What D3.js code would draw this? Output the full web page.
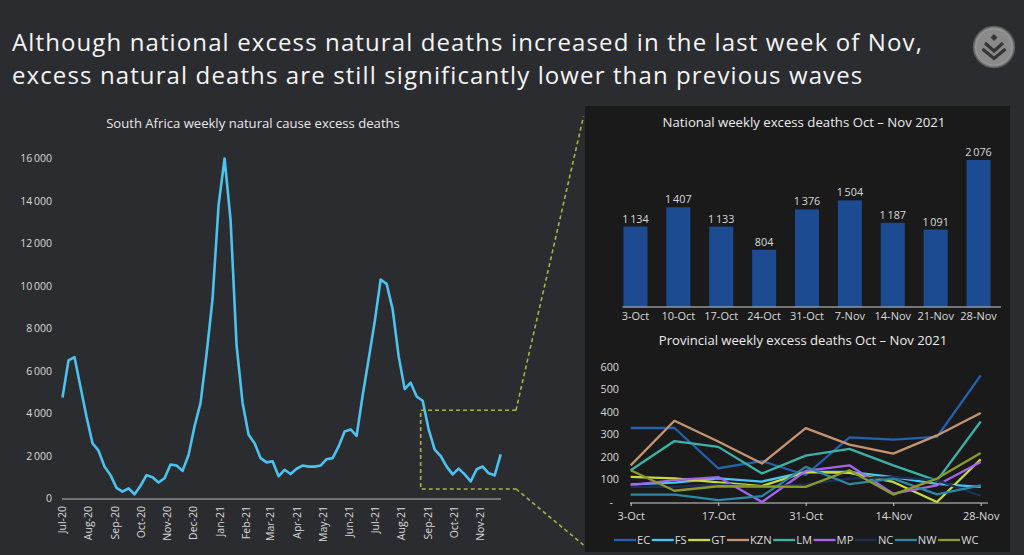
<!DOCTYPE html>
<html><head><meta charset="utf-8">
<script src="https://cdn.jsdelivr.net/npm/d3@7"></script>
<style>
html,body{margin:0;padding:0;background:#2b2c30;}
svg{display:block;font-family:"Open Sans",sans-serif;}
</style></head><body>
<svg id="c" width="1024" height="555"></svg>
<script>
// ---------- data ----------
const titleLines = [
  "Although national excess natural deaths increased in the last week of Nov,",
  "excess natural deaths are still significantly lower than previous waves"
];
const leftTitle = "South Africa weekly natural cause excess deaths";
const leftStart = "2020-07-02";
const weeklyExcess = [
  4750, 6500, 6650, 5250, 3850, 2600, 2250, 1500, 1100, 500,
  320, 480, 200, 600, 1100, 1000, 750, 950, 1600, 1550,
  1300, 2050, 3400, 4500, 6800, 9400, 13800, 16000, 13100, 7200,
  4500, 3000, 2600, 1900, 1700, 1750, 1050, 1350, 1150, 1400,
  1550, 1500, 1500, 1550, 1850, 1900, 2450, 3150, 3250, 2950,
  4850, 6550, 8300, 10300, 10100, 8900, 6700, 5150, 5450, 4800,
  4600, 3250, 2300, 2000, 1500,
  1134, 1407, 1133, 804, 1376, 1504, 1187, 1091, 2076
];
const monthTicks = ["2020-07-01","2020-08-01","2020-09-01","2020-10-01","2020-11-01","2020-12-01",
  "2021-01-01","2021-02-01","2021-03-01","2021-04-01","2021-05-01","2021-06-01","2021-07-01",
  "2021-08-01","2021-09-01","2021-10-01","2021-11-01"];
const leftYTicks = [0,2000,4000,6000,8000,10000,12000,14000,16000];

const barTitle = "National weekly excess deaths Oct \u2013 Nov 2021";
const weeks = ["3-Oct","10-Oct","17-Oct","24-Oct","31-Oct","7-Nov","14-Nov","21-Nov","28-Nov"];
const nationalExcess = [1134, 1407, 1133, 804, 1376, 1504, 1187, 1091, 2076];

const provTitle = "Provincial weekly excess deaths Oct \u2013 Nov 2021";
const provNames = ["EC","FS","GT","KZN","LM","MP","NC","NW","WC"];
const EC  = [329, 329, 150, 182, 120, 287, 277, 289, 563];
const FS  = [78, 86, 105, 91, 134, 134, 111, 81, 67];
const GT  = [112, 105, 87, 71, 133, 130, 89, 0, 190];
const KZN = [163, 361, 269, 171, 328, 255, 215, 296, 396];
const LM  = [141, 271, 245, 127, 206, 236, 163, 95, 358];
const MP  = [75, 97, 111, 0, 138, 163, 37, 74, 178];
const NC  = [67, 67, 78, 67, 78, 104, 111, 97, 27];
const NW  = [33, 33, 8, 26, 156, 79, 104, 34, 74];
const WC  = [141, 50, 70, 69, 67, 141, 33, 104, 218];
const provSeries = [EC, FS, GT, KZN, LM, MP, NC, NW, WC];
const provYTicks = [0,100,200,300,400,500,600];
const provXLabels = ["3-Oct","17-Oct","31-Oct","14-Nov","28-Nov"];

// ---------- styles ----------
const provColors = ["#2461b0","#45c6f5","#c9dc3c","#c49570","#3cb3a6","#a563ee","#1b2f52","#2a87a6","#8c9a2c"];
const txt = "#d9d9d9";

const svg = d3.select("#c");
const parse = d3.utcParse("%Y-%m-%d");

// background + panel
svg.append("rect").attr("width",1024).attr("height",555).attr("fill","#2b2c30");
svg.append("rect").attr("x",585).attr("y",106).attr("width",425).attr("height",446).attr("fill","#1a1a1b");

// ---------- title ----------
const t1 = svg.append("text").attr("x",12).attr("y",51).attr("fill","#f4f4f4").attr("font-size",24).text(titleLines[0]);
const len = t1.node().getComputedTextLength();
const ls = (911 - len) / titleLines[0].length;
t1.attr("letter-spacing", ls);
svg.append("text").attr("x",12).attr("y",84).attr("fill","#f4f4f4").attr("font-size",24)
  .attr("letter-spacing", ls).text(titleLines[1]);

// logo
const logo = svg.append("g").attr("transform","translate(994,47)");
logo.append("circle").attr("r",20.5).attr("fill","#8a8a8a").attr("stroke","#5c5c5c").attr("stroke-width",1.5);
logo.append("circle").attr("r",18).attr("fill","none").attr("stroke","#9a9a9a").attr("stroke-width",1);
logo.append("path").attr("d","M0,-13 L3.5,-9.5 L0,-6 L-3.5,-9.5Z").attr("fill","#353535");
logo.append("path").attr("d","M-9,-4 L0,4 L9,-4").attr("fill","none").attr("stroke","#353535").attr("stroke-width",3.2);
logo.append("path").attr("d","M-11.5,2 L0,11.5 L11.5,2").attr("fill","none").attr("stroke","#353535").attr("stroke-width",3.2);

// ---------- left chart ----------
const start = parse(leftStart);
const leftDates = weeklyExcess.map((d,i) => d3.utcDay.offset(start, 7*i));
const xL = d3.scaleUtc().domain([leftDates[0], leftDates[leftDates.length-1]]).range([62.5, 500.7]);
const yL = d3.scaleLinear().domain([0,16000]).range([498.5, 158.5]);
const spaceFmt = v => d3.format(",")(v).replace(/,/g, "\u2009");

svg.append("text").attr("x",253).attr("y",128).attr("text-anchor","middle").attr("fill","#e8e8e8")
  .attr("font-size",13.1).text(leftTitle);

const gyL = svg.append("g").attr("transform","translate(56,0)")
  .call(d3.axisLeft(yL).tickValues(leftYTicks).tickSize(0).tickPadding(4).tickFormat(spaceFmt));
gyL.select(".domain").remove();
gyL.selectAll("text").attr("fill",txt).attr("font-size",10.5).attr("font-family","Open Sans");

const gxL = svg.append("g").attr("transform","translate(0,499)")
  .call(d3.axisBottom(xL).tickValues(monthTicks.map(parse)).tickSize(0).tickFormat(d3.utcFormat("%b-%y")));
gxL.select(".domain").remove();
gxL.selectAll("text").attr("fill",txt).attr("font-size",10.5).attr("font-family","Open Sans")
  .attr("text-anchor","end").attr("transform","rotate(-90)").attr("x",-7).attr("y",0).attr("dy","0.35em");
svg.append("line").attr("x1",62).attr("x2",501).attr("y1",499).attr("y2",499).attr("stroke","#bdbdbd").attr("stroke-width",1);

svg.append("path").datum(weeklyExcess)
  .attr("d", d3.line().x((d,i)=>xL(leftDates[i])).y(d=>yL(d)))
  .attr("fill","none").attr("stroke","#4cc2ef").attr("stroke-width",2.6).attr("stroke-linejoin","round");

// zoom callout
const dashC = "#a9b14a";
const callout = svg.append("g").attr("fill","none").attr("stroke",dashC).attr("stroke-width",1.6).attr("stroke-dasharray","4,3");
const boxL = xL(leftDates[leftDates.length-9]) - 32;
callout.append("path").attr("d",`M516,${yL(4150)} L${boxL},${yL(4150)} L${boxL},${yL(450)} L516,${yL(450)}`);
callout.append("path").attr("d",`M516,${yL(4150)} L583.5,116.5`);
callout.append("path").attr("d",`M516,${yL(450)} L583.5,545`);

// ---------- bar chart ----------
svg.append("text").attr("x",804).attr("y",127).attr("text-anchor","middle").attr("fill","#ececec")
  .attr("font-size",13.2).text(barTitle);
const xB = d3.scaleBand().domain(weeks).range([614,1000]).paddingInner(0.44).paddingOuter(0.22);
const yB = d3.scaleLinear().domain([0,2500]).range([306.7,130]);
svg.append("g").selectAll("rect").data(nationalExcess).join("rect")
  .attr("x",(d,i)=>xB(weeks[i])).attr("width",xB.bandwidth())
  .attr("y",d=>yB(d)).attr("height",d=>yB(0)-yB(d)).attr("fill","#1c4b92");
svg.append("g").selectAll("text").data(nationalExcess).join("text")
  .attr("x",(d,i)=>xB(weeks[i])+xB.bandwidth()/2).attr("y",d=>yB(d)-4)
  .attr("text-anchor","middle").attr("fill",txt).attr("font-size",10.8)
  .text(d=>d3.format(",")(d).replace(/,/g,"\u2009"));
const gxB = svg.append("g").attr("transform","translate(0,307)")
  .call(d3.axisBottom(xB).tickSize(0).tickPadding(5));
gxB.select(".domain").remove();
gxB.selectAll("text").attr("fill",txt).attr("font-size",11).attr("font-family","Open Sans");
svg.append("line").attr("x1",622.5).attr("x2",1001).attr("y1",307).attr("y2",307).attr("stroke","#cfcfcf").attr("stroke-width",1);

// ---------- provincial chart ----------
svg.append("text").attr("x",803).attr("y",345).attr("text-anchor","middle").attr("fill","#ececec")
  .attr("font-size",13.1).text(provTitle);
const xP = d3.scalePoint().domain(weeks).range([630.7, 980.7]);
const yP = d3.scaleLinear().domain([0,600]).range([502, 367]);

const gyP = svg.append("g").attr("transform","translate(619,0)")
  .call(d3.axisLeft(yP).tickValues(provYTicks).tickSize(0).tickPadding(0).tickFormat(d=>d===0?"-":d));
gyP.select(".domain").remove();
gyP.selectAll("text").attr("fill",txt).attr("font-size",10.8).attr("font-family","Open Sans");
gyP.selectAll("text").filter(d=>d===0).attr("x",-6);

svg.append("clipPath").attr("id","pclip").append("rect").attr("x",585).attr("y",330).attr("width",415).attr("height",222);
const gxP = svg.append("g").attr("clip-path","url(#pclip)").append("g").attr("transform","translate(0,503)")
  .call(d3.axisBottom(xP).tickValues(provXLabels).tickSize(3).tickPadding(6));
gxP.select(".domain").remove();
gxP.selectAll("line").attr("stroke","#d0d0d0");
gxP.selectAll("text").attr("fill",txt).attr("font-size",11).attr("font-family","Open Sans");
svg.append("line").attr("x1",630).attr("x2",988).attr("y1",503).attr("y2",503).attr("stroke","#d0d0d0").attr("stroke-width",1);

const lineP = d3.line().x((d,i)=>xP(weeks[i])).y(d=>yP(d));
svg.append("g").selectAll("path").data(provSeries).join("path")
  .attr("d",lineP).attr("fill","none").attr("stroke",(d,i)=>provColors[i])
  .attr("stroke-width",2.3).attr("stroke-linejoin","round");

// legend
const lg = svg.append("g");
let lx = 614;
provNames.forEach((n,i)=>{
  lg.append("line").attr("x1",lx).attr("x2",lx+22).attr("y1",540).attr("y2",540)
    .attr("stroke",provColors[i]).attr("stroke-width",2.3);
  const t = lg.append("text").attr("x",lx+23).attr("y",540).attr("dy","0.35em").attr("fill",txt)
    .attr("font-size",11.2).text(n);
  lx += 23 + t.node().getComputedTextLength() + 1.5;
});
</script>
</body></html>
